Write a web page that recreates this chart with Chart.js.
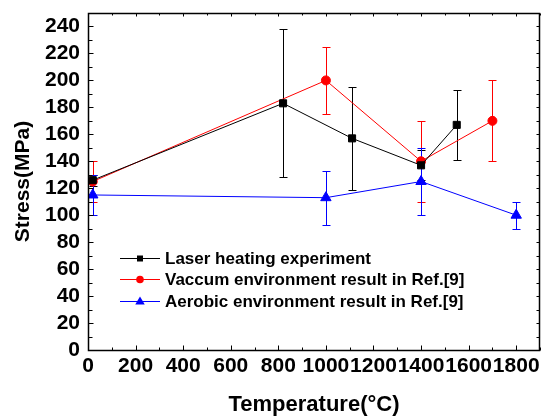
<!DOCTYPE html>
<html>
<head>
<meta charset="utf-8">
<script src="https://cdn.jsdelivr.net/npm/chart.js@4.4.0/dist/chart.umd.min.js"></script>
<style>
  html, body { margin: 0; padding: 0; background: #fff; }
  canvas { display: block; }
</style>
</head>
<body>
<canvas id="stressChart" width="542" height="416"></canvas>
<script>
// ----------------------------- Data ----------------------------------------
const laserTemp = [20, 820, 1110, 1400, 1550];
const laserStress = [126, 183, 157, 137, 167];
const laserErr = [4, 55, 38, 11, 26];

const vacTemp = [20, 1000, 1400, 1700];
const vacStress = [125, 200, 140, 170];
const vacErr = [15, 25, 30, 30];

const aerTemp = [20, 1000, 1400, 1800];
const aerStress = [115, 113, 125, 100];
const aerErr = [15, 20, 25, 10];

const seriesLabels = [
  'Laser heating experiment',
  'Vaccum environment result in Ref.[9]',
  'Aerobic environment result in Ref.[9]',
];

const xTitle = 'Temperature(°C)';
const yTitle = 'Stress(MPa)';

// ----------------------------- Style ---------------------------------------
const FONT = "Arial, 'Liberation Sans', sans-serif";
const COL = { laser: '#000000', vac: '#ff0000', aer: '#0000ff' };

function toPoints(xs, ys) {
  return xs.map((x, i) => ({ x, y: ys[i] }));
}

// error bars drawn through the scales
const errorBars = {
  id: 'errorBars',
  beforeDatasetsDraw(chart) {
    const { ctx, scales } = chart;
    const xs = scales.x, ys = scales.y;
    chart.data.datasets.forEach((ds) => {
      if (!ds.errors) return;
      ctx.save();
      ctx.strokeStyle = ds.borderColor;
      ctx.lineWidth = 1;
      ds.data.forEach((p, i) => {
        const e = ds.errors[i];
        const px = Math.round(xs.getPixelForValue(p.x)) + 0.5;
        const top = Math.round(ys.getPixelForValue(p.y + e)) + 0.5;
        const bot = Math.round(ys.getPixelForValue(p.y - e)) + 0.5;
        ctx.beginPath();
        ctx.moveTo(px, top); ctx.lineTo(px, bot);
        ctx.moveTo(px - 4, top); ctx.lineTo(px + 4, top);
        ctx.moveTo(px - 4, bot); ctx.lineTo(px + 4, bot);
        ctx.stroke();
      });
      ctx.restore();
    });
  },
};

// box frame with inward ticks on all four sides
const frame = {
  id: 'frame',
  afterDraw(chart) {
    const { ctx, chartArea: a, scales } = chart;
    ctx.save();
    ctx.strokeStyle = '#000';
    ctx.lineWidth = 1;
    const L = Math.round(a.left) + 0.5, R = Math.round(a.right) - 0.5;
    const T = Math.round(a.top) + 0.5, B = Math.round(a.bottom) + 0.5;
    ctx.beginPath();
    scales.x.ticks.forEach((t) => {
      const px = Math.round(scales.x.getPixelForValue(t.value)) + 0.5;
      const major = t.value % 200 === 0;
      ctx.moveTo(px, B); ctx.lineTo(px, B - (major ? 5 : 3));
      ctx.moveTo(px, T); ctx.lineTo(px, T + (major ? 3 : 2));
    });
    scales.y.ticks.forEach((t) => {
      const py = Math.round(scales.y.getPixelForValue(t.value)) + 0.5;
      const major = t.value % 20 === 0;
      ctx.moveTo(L, py); ctx.lineTo(L + (major ? 5 : 4), py);
      ctx.moveTo(R, py); ctx.lineTo(R - 3, py);
    });
    ctx.stroke();
    ctx.lineWidth = 1.5;
    ctx.strokeRect(L, T, R - L, B - T);
    ctx.restore();
  },
};

function drawMarker(ctx, style, x, y, r, color) {
  ctx.fillStyle = color;
  ctx.beginPath();
  if (style === 'rect') {
    ctx.rect(x - r, y - r, 2 * r, 2 * r);
  } else if (style === 'circle') {
    ctx.arc(x, y, r, 0, Math.PI * 2);
  } else {
    ctx.moveTo(x, y - r);
    ctx.lineTo(x + r * 0.95, y + r * 0.6);
    ctx.lineTo(x - r * 0.95, y + r * 0.6);
    ctx.closePath();
  }
  ctx.fill();
}

// floating legend inside the plot
const innerLegend = {
  id: 'innerLegend',
  afterDraw(chart) {
    const { ctx, chartArea: a } = chart;
    const x0 = a.left + 32, y0 = a.top + 245, row = 21.3;
    const sizes = { rect: 3, circle: 3.8, triangle: 5 };
    ctx.save();
    ctx.font = `bold 17px ${FONT}`;
    ctx.textBaseline = 'middle';
    chart.data.datasets.forEach((ds, i) => {
      const y = Math.round(y0 + i * row) + 0.5;
      ctx.strokeStyle = ds.borderColor;
      ctx.lineWidth = 1;
      ctx.beginPath();
      ctx.moveTo(x0, y); ctx.lineTo(x0 + 40, y);
      ctx.stroke();
      drawMarker(ctx, ds.pointStyle, x0 + 20, y, sizes[ds.pointStyle], ds.borderColor);
      ctx.fillStyle = '#000';
      ctx.fillText(ds.label, x0 + 45, y + 1);
    });
    ctx.restore();
  },
};

const tickFont = { family: FONT, size: 21, weight: 'bold' };

new Chart(document.getElementById('stressChart').getContext('2d'), {
  type: 'line',
  data: {
    datasets: [
      {
        label: seriesLabels[0],
        data: toPoints(laserTemp, laserStress),
        errors: laserErr,
        borderColor: COL.laser,
        backgroundColor: COL.laser,
        pointStyle: 'rect',
        pointRadius: 5,
        borderWidth: 1,
        tension: 0,
      },
      {
        label: seriesLabels[1],
        data: toPoints(vacTemp, vacStress),
        errors: vacErr,
        borderColor: COL.vac,
        backgroundColor: COL.vac,
        pointStyle: 'circle',
        pointRadius: 4.5,
        borderWidth: 1,
        tension: 0,
      },
      {
        label: seriesLabels[2],
        data: toPoints(aerTemp, aerStress),
        errors: aerErr,
        borderColor: COL.aer,
        backgroundColor: COL.aer,
        pointStyle: 'triangle',
        pointRadius: 6,
        borderWidth: 1,
        tension: 0,
      },
    ],
  },
  options: {
    responsive: false,
    animation: false,
    layout: { autoPadding: false, padding: { top: 13, right: 2, left: 0, bottom: 0 } },
    plugins: { legend: { display: false }, tooltip: { enabled: false } },
    elements: { point: { borderWidth: 0 } },
    scales: {
      x: {
        type: 'linear',
        min: 0,
        max: 1900,
        grid: { display: false, drawTicks: false },
        border: { display: false },
        ticks: {
          stepSize: 100,
          autoSkip: false,
          maxRotation: 0,
          padding: 4,
          color: '#000',
          font: tickFont,
          callback: (v) => (v % 200 === 0 ? String(v) : ''),
        },
        title: {
          display: true,
          text: xTitle,
          color: '#000',
          font: { family: FONT, size: 22, weight: 'bold', lineHeight: 1 },
          padding: { top: 0, bottom: 0 },
        },
        afterFit: (s) => {
          s.height = 66;
          s.paddingLeft = 0;
          s.paddingRight = 0;
        },
      },
      y: {
        min: 0,
        max: 250,
        grid: { display: false, drawTicks: false },
        border: { display: false },
        ticks: {
          stepSize: 10,
          autoSkip: false,
          padding: 8,
          color: '#000',
          font: tickFont,
          callback: (v) => (v % 20 === 0 ? String(v) : ''),
        },
        title: {
          display: true,
          text: yTitle,
          color: '#000',
          font: { family: FONT, size: 21, weight: 'bold', lineHeight: 1 },
          padding: { top: 13, bottom: 0 },
        },
        afterFit: (s) => {
          s.width = 88;
          s.paddingTop = 0;
          s.paddingBottom = 0;
        },
      },
    },
  },
  plugins: [errorBars, frame, innerLegend],
});
</script>
</body>
</html>
